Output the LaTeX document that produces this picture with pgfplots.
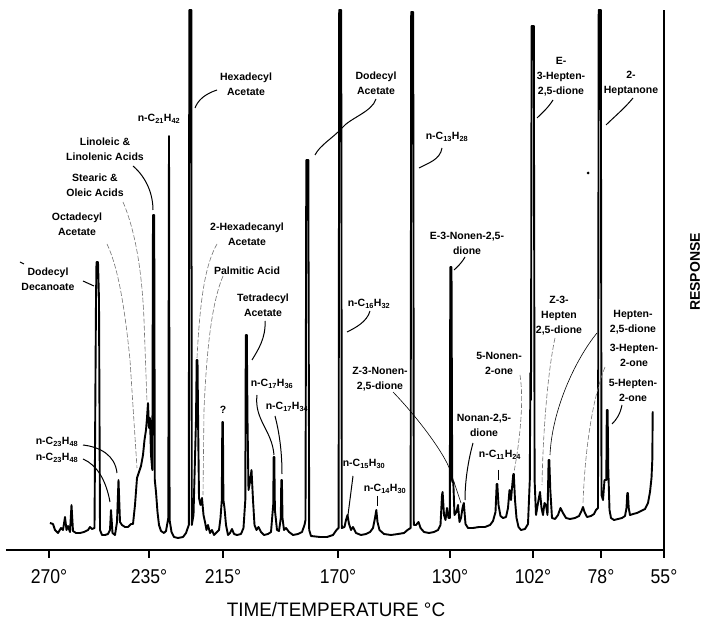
\documentclass[border=0pt]{standalone}
\usepackage{fontspec}
\setmainfont{Liberation Sans}
\newfontfamily\tickfont[FakeStretch=0.88]{Liberation Sans}
\newfontfamily\titlefont[FakeStretch=0.97]{Liberation Sans}
\usepackage{pgfplots}
\pgfplotsset{compat=1.18}
\begin{document}
\begin{tikzpicture}[x=1pt,y=1pt,
  lab/.style={font=\bfseries\fontsize{10.5}{15}\selectfont, align=center, inner sep=0pt},
  lead/.style={line width=1pt},
  faint/.style={line width=0.6pt, black!55, dash pattern=on 5pt off 2pt}]
\path[use as bounding box] (-6,-71) rectangle (701,550);
\begin{axis}[
  at={(0,0)}, anchor=south west,
  scale only axis, width=658pt, height=540pt,
  xmin=6, xmax=664, ymin=-550, ymax=-10,
  axis x line*=bottom, axis y line*=right,
  ytick=\empty,
  xtick={49,149,223,338,450,533,601,664},
  xticklabels={270°,235°,215°,170°,130°,102°,78°,55°},
  xtick align=outside, major tick length=8pt,
  tick style={black, line width=1.1pt},
  axis line style={black, line width=1.2pt},
  xticklabel style={font=\tickfont\fontsize{20}{20}\selectfont, yshift=-8pt},
  clip=false,
]
\addplot[black, line width=1.9pt, line join=round, no marks] coordinates {
(50,-523) (53,-524) (55,-530) (58,-533) (61,-528) (63,-530) (65,-517) (66.5,-530) (68,-526) (70,-532) (71.5,-505) (73,-531) (76,-533) (80,-533) (84,-532) (88,-530) (90,-527) (92,-529)
(94.5,-528) (96,-300) (96.5,-262) (98,-262) (99,-300) (100,-530)
(102,-535) (105,-535) (108,-534) (110,-530) (111,-510) (112.5,-533) (115,-535) (117,-522) (118.5,-480) (120,-522) (122,-525) (125,-527) (128,-527) (131,-524) (133,-524) (135,-505) (137,-478) (139,-472) (141,-466) (143,-455) (144.5,-440) (146,-430) (147,-418) (148,-403) (149,-428) (150,-418) (151,-455)
(152.3,-470) (153,-215) (154.2,-215) (154.8,-480)
(156,-492) (157.5,-512) (159,-525) (161,-531) (164,-533) (166,-531) (168.3,-518) (169,-136) (169.6,-520) (171.5,-532) (174,-537) (178,-538) (183,-537) (186,-533)
(188.8,-525) (189.3,-10) (191.3,-10) (191.8,-525)
(193.5,-515) (196,-420) (196.7,-360) (197.5,-360) (198.2,-430) (199,-498) (200.5,-505) (202,-498) (203.5,-515) (205,-522) (206.5,-530) (208,-525) (210,-533) (212,-530) (214,-535) (217,-532) (219,-530) (220.5,-518)
(221.8,-500) (222.3,-422) (222.9,-422) (223.4,-500)
(224.5,-508) (226,-525) (228,-535) (230,-533) (232,-529) (234,-534) (237,-535) (241,-534) (243.5,-528)
(245.3,-500) (245.8,-335) (246.8,-335) (247.5,-420)
(248.5,-490) (250,-482) (251.5,-470) (253,-500) (254.5,-525) (256.5,-530) (258.5,-527) (261,-532) (264,-535) (268,-534) (271,-532) (273.2,-505) (273.7,-457) (274.3,-457) (274.9,-510) (277,-530) (279,-531) (280.8,-518) (281.3,-480) (281.9,-480) (282.5,-518) (284,-530) (286,-528) (289,-532) (293,-535) (298,-534) (302,-532) (304.5,-525)
(305.5,-520) (306.3,-160) (308.3,-160) (309.2,-530)
(311,-536) (320,-537) (327,-537) (333,-535) (336.5,-530)
(338.6,-528) (339.2,-10) (341.2,-10) (341.8,-528)
(344.5,-527) (346,-520) (347.5,-515) (349,-524) (351,-530) (353,-527) (356,-533) (361,-535) (366,-534) (370,-532) (373,-528) (375,-518) (376.3,-510) (377.5,-522) (379.5,-530) (384,-534) (391,-535) (398,-534) (404,-533) (407.5,-530)
(410.6,-528) (411.2,-12) (413.2,-12) (413.8,-525)
(416,-525) (418.5,-522) (420.5,-528) (424,-532) (429,-533) (434,-532) (438,-530) (440.5,-525) (442,-495) (442.6,-492) (444,-515) (445.5,-520) (447,-508) (448.5,-518)
(449.8,-518) (450.3,-267) (451.5,-267) (452.2,-482)
(453.3,-482) (454.5,-515) (456.5,-512) (458,-505) (459.5,-522) (461,-518) (462.5,-508) (463.8,-503) (465.5,-524) (468,-528) (473,-528) (479,-527) (485,-527) (490,-525) (493,-521) (495.5,-512) (496.7,-484) (497.3,-484) (498.5,-505) (500.5,-516) (503,-518) (506,-517) (508,-508) (509.5,-490) (511,-500) (512,-488) (513.3,-474) (513.8,-474) (515,-500) (516.5,-518) (518.5,-527) (521,-530) (525,-529) (528,-524)
(529.8,-480) (530.4,-373) (531,-400) (531.6,-26) (533.8,-26) (534.6,-480)
(536,-515) (538.5,-500) (540,-492) (541.5,-508) (543,-515) (544.5,-503) (546,-505) (547.5,-515) (548.6,-460) (549.3,-460) (550.3,-490) (552,-518) (555,-519) (558,-515) (560.5,-508) (563,-513) (566,-518) (570,-519) (575,-518) (579,-516) (581.5,-511) (583,-507) (584.5,-512) (587,-517) (591,-516) (594,-514) (596,-510)
(598,-508) (598.7,-10) (600.8,-10) (601.5,-495)
(603,-500) (604.5,-480) (606.3,-480) (606.8,-410) (607.6,-410) (608.3,-470) (609.5,-510) (611,-518) (614,-520) (618,-519) (622,-518) (625,-516) (626.5,-508) (627.3,-493) (627.9,-493) (628.7,-508) (630,-515) (633,-514) (637,-513) (641,-511) (645,-509) (648,-503) (650,-492) (651.5,-478) (652.3,-460) (652.7,-412) (653.3,-412)
};
% labels
\node[lab] at (48,-279) {Dodecyl\\Decanoate};
\node[lab] at (77,-224) {Octadecyl\\Acetate};
\node[lab] at (95,-185) {Stearic \&\\Oleic Acids};
\node[lab] at (105,-149) {Linoleic \&\\Linolenic Acids};
\node[lab] at (159,-119) {n-C\textsubscript{21}H\textsubscript{42}};
\node[lab] at (246,-84) {Hexadecyl\\Acetate};
\node[lab] at (247,-234) {2-Hexadecanyl\\Acetate};
\node[lab] at (247,-271) {Palmitic Acid};
\node[lab] at (263,-305) {Tetradecyl\\Acetate};
\node[lab] at (223,-410) {?};
\node[lab] at (272,-384) {n-C\textsubscript{17}H\textsubscript{36}};
\node[lab] at (287,-407) {n-C\textsubscript{17}H\textsubscript{34}};
\node[lab] at (364,-464) {n-C\textsubscript{15}H\textsubscript{30}};
\node[lab] at (385,-489) {n-C\textsubscript{14}H\textsubscript{30}};
\node[lab] at (369,-304) {n-C\textsubscript{16}H\textsubscript{32}};
\node[lab] at (376,-83) {Dodecyl\\Acetate};
\node[lab] at (447,-137) {n-C\textsubscript{13}H\textsubscript{28}};
\node[lab] at (467,-243) {E-3-Nonen-2,5-\\dione};
\node[lab] at (380,-379) {Z-3-Nonen-\\2,5-dione};
\node[lab] at (499,-363) {5-Nonen-\\2-one};
\node[lab] at (484,-425) {Nonan-2,5-\\dione};
\node[lab] at (500,-455) {n-C\textsubscript{11}H\textsubscript{24}};
\node[lab] at (559,-316) {Z-3-\\Hepten\\2,5-dione};
\node[lab] at (561,-77) {E-\\3-Hepten-\\2,5-dione};
\node[lab] at (631,-83) {2-\\Heptanone};
\node[lab] at (633,-322) {Hepten-\\2,5-dione};
\node[lab] at (634,-355) {3-Hepten-\\2-one};
\node[lab] at (633,-390) {5-Hepten-\\2-one};
\node[lab] at (57,-442) {n-C\textsubscript{23}H\textsubscript{48}};
\node[lab] at (57,-458) {n-C\textsubscript{23}H\textsubscript{48}};
% leader lines
\draw[lead] (83,-281) -- (94,-286);
\draw[faint] (107,-244) .. controls (117,-265) and (124,-300) .. (130,-360) -- (137,-468);
\draw[faint] (123,-202) .. controls (135,-230) and (142,-270) .. (144,-320) -- (147,-402);
\draw[lead] (133,-166) .. controls (147,-178) and (153,-195) .. (153,-210);
\draw[lead] (217,-90) .. controls (205,-94) and (198,-100) .. (195,-108);
\draw[faint] (217,-244) .. controls (205,-265) and (200,-300) .. (197,-358);
\draw[faint] (223,-276) .. controls (213,-300) and (207,-340) .. (204,-410) -- (203,-495);
\draw[lead] (265,-321) .. controls (266,-338) and (258,-350) .. (252,-360);
\draw[lead] (257,-395) .. controls (254,-420) and (272,-430) .. (274,-455);
\draw[lead] (275,-416) .. controls (280,-435) and (282,-455) .. (282,-474);
\draw[lead] (353,-476) -- (348,-515);
\draw[lead] (377,-496) -- (377,-506);
\draw[lead] (370,-311) .. controls (367,-322) and (355,-328) .. (347,-332);
\draw[lead] (376,-99) .. controls (372,-112) and (350,-118) .. (342,-128) .. controls (333,-138) and (320,-145) .. (315,-155);
\draw[lead] (442,-148) .. controls (440,-160) and (428,-163) .. (419,-168);
\draw[lead] (465,-257) .. controls (461,-264) and (457,-267) .. (454,-270);
\draw[line width=0.6pt] (393,-392) .. controls (420,-420) and (445,-455) .. (450,-470) -- (461,-503);
\draw[faint] (520,-375) .. controls (524,-400) and (520,-440) .. (514,-472);
\draw[lead] (473,-443) .. controls (467,-465) and (465,-485) .. (465,-500);
\draw[lead] (498,-470) -- (498,-480);
\draw[faint] (555,-338) .. controls (548,-370) and (543,-430) .. (542,-485);
\draw[line width=0.6pt] (597,-333) .. controls (575,-360) and (552,-410) .. (550,-455);
\draw[faint] (605,-367) .. controls (592,-400) and (585,-450) .. (583,-503);
\draw[lead] (622,-405) .. controls (620,-415) and (616,-420) .. (612,-424);
\draw[lead] (553,-100) .. controls (548,-108) and (542,-113) .. (537,-118);
\draw[lead] (633,-98) .. controls (625,-108) and (613,-118) .. (606,-125);
\draw[lead] (83,-445) .. controls (100,-447) and (115,-455) .. (117,-473);
\draw[lead] (83,-459) .. controls (97,-465) and (106,-480) .. (110,-502);
\fill (588,-173) circle (1.5pt);
\draw[line width=1pt] (20,-262) -- (24,-264);
% axis titles
\node[rotate=90, font=\bfseries\fontsize{14}{14}\selectfont] at (695,-272) {RESPONSE};
\node[font=\titlefont\fontsize{19.5}{19.5}\selectfont] at (336,-610) {TIME/TEMPERATURE °C};
\end{axis}
\end{tikzpicture}
\end{document}
